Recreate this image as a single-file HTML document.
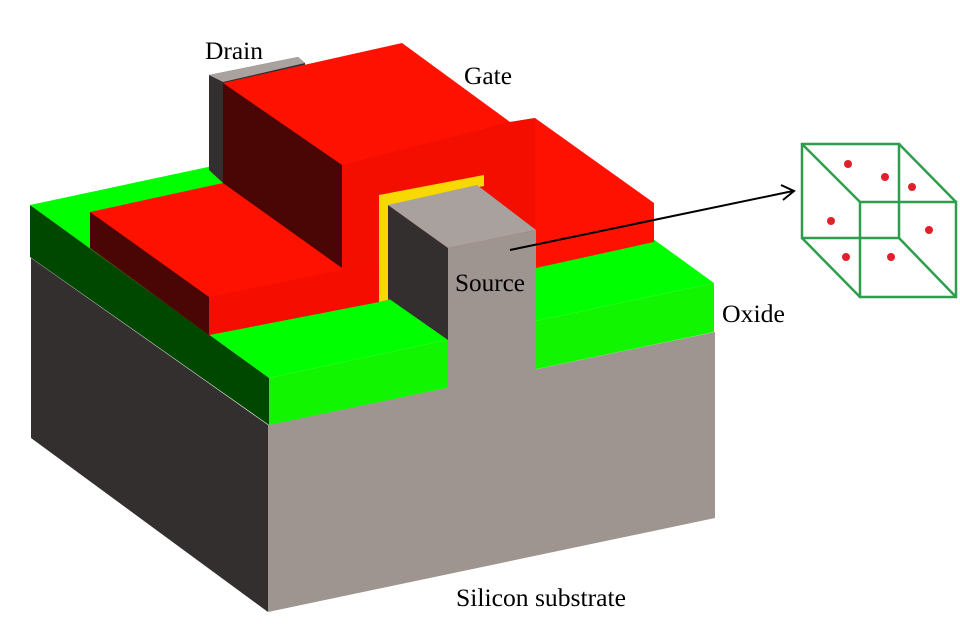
<!DOCTYPE html>
<html><head><style>html,body{margin:0;padding:0;background:#fff}svg{display:block}</style></head>
<body>
<svg width="960" height="633" viewBox="0 0 960 633" xmlns="http://www.w3.org/2000/svg">
<polygon points="268,425 715,332 715,518 268,612" fill="#9e9590"/>
<polygon points="31,258 268,425 268,612 31,438" fill="#332f2f"/>
<polygon points="30,205 475,110 714,283 269,378" fill="#00ff00"/>
<polygon points="269,378 714,283 714,332 269,425" fill="#11f500"/>
<polygon points="30,205 269,378 269,425 30,257" fill="#004800"/>
<polygon points="209,75 298,57 305,63 305,150 223,183 209,170" fill="#332f2f"/>
<polygon points="209,75 298,57 305,63 223,82" fill="#aaa29e"/>
<polygon points="90,212 223,183 223,83 402,43 510,122 535,118 654,203 654,242 536,268 379,302 209,335 90,248" fill="#ff1100"/>
<polygon points="342,165 510,122 535,118 535,265 379,302 342,268" fill="#f40e00"/>
<polygon points="223,83 342,165 342,268 223,183" fill="#4a0505"/>
<polygon points="90,212 209,297 209,335 90,248" fill="#4a0505"/>
<polygon points="209,297 379,262 379,302 209,335" fill="#f50e00"/>
<polygon points="379,195 484,175 484,186 388,206 388,300 379,302" fill="#f7d800"/>
<polygon points="448,248 536,230 536,400 448,420" fill="#9e9590"/>
<polygon points="388,205 448,248 448,340 388,298" fill="#332f2f"/>
<polygon points="388,205 477,185 536,230 448,248" fill="#a9a19d"/>
<line x1="510" y1="250" x2="793" y2="191" stroke="#000" stroke-width="2"/>
<polyline points="781,185 794,191 783,200" fill="none" stroke="#000" stroke-width="2"/>
<g fill="none" stroke="#2e9e4e" stroke-width="2.5">
<rect x="802" y="144" width="97" height="94"/>
<rect x="860" y="202" width="96" height="95"/>
<line x1="802" y1="144" x2="860" y2="202"/>
<line x1="899" y1="144" x2="956" y2="202"/>
<line x1="802" y1="238" x2="860" y2="297"/>
<line x1="899" y1="238" x2="956" y2="297"/>
</g>
<g fill="#e0202a">
<circle cx="848" cy="164" r="4"/><circle cx="885" cy="177" r="4"/><circle cx="912" cy="187" r="4"/>
<circle cx="831" cy="221" r="4"/><circle cx="929" cy="230" r="4"/><circle cx="846" cy="257" r="4"/><circle cx="891" cy="257" r="4"/>
</g>
<g font-family="'Liberation Serif', serif" fill="#000" font-size="25">
<text x="205" y="59" textLength="58" lengthAdjust="spacingAndGlyphs">Drain</text>
<text x="464" y="84" textLength="48" lengthAdjust="spacingAndGlyphs">Gate</text>
<text x="455" y="291" textLength="70" lengthAdjust="spacingAndGlyphs">Source</text>
<text x="722" y="322" textLength="63" lengthAdjust="spacingAndGlyphs">Oxide</text>
<text x="456" y="606" textLength="170" lengthAdjust="spacingAndGlyphs">Silicon substrate</text>
</g>
</svg>
</body></html>
